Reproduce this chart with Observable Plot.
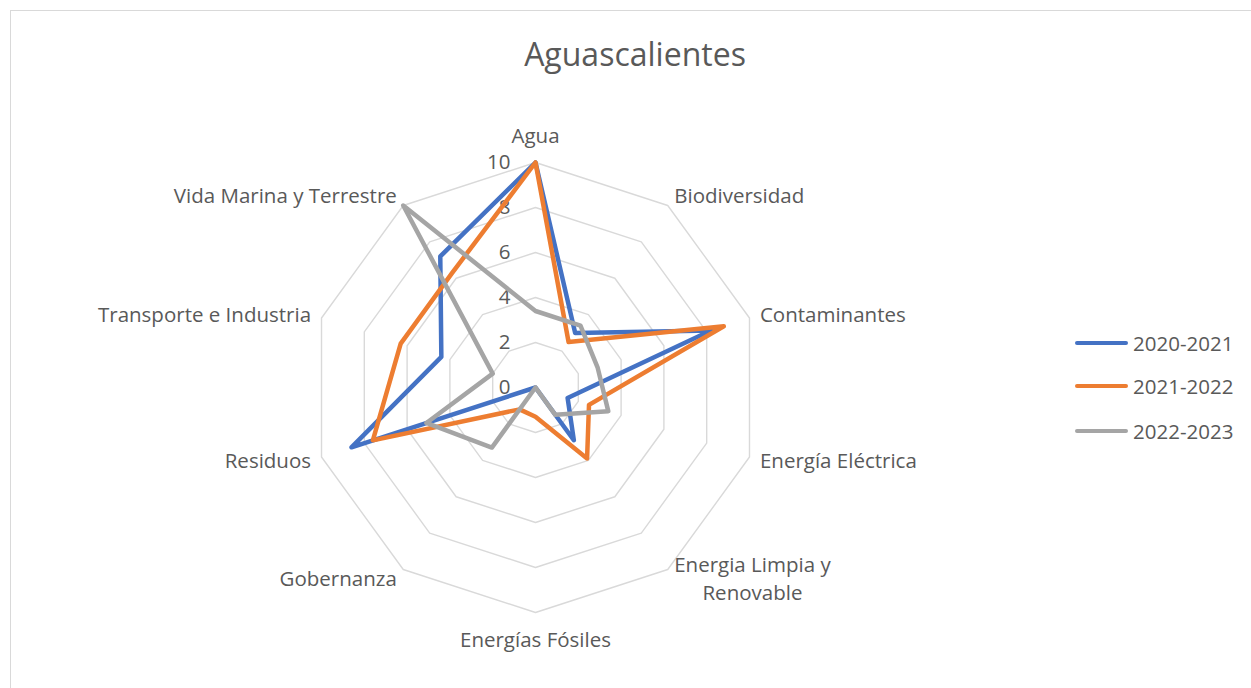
<!DOCTYPE html>
<html><head><meta charset="utf-8">
<script src="https://cdn.jsdelivr.net/npm/d3@7"></script>
<script src="https://cdn.jsdelivr.net/npm/@observablehq/plot@0.6"></script>
<style>
body{margin:0;background:#fff;font-family:"Open Sans",Lato,sans-serif;}
#wrap{position:relative;width:1251px;height:688px;overflow:hidden;background:#fff;}
#frame{position:absolute;left:10px;top:10px;width:1300px;height:700px;border:1px solid #d9d9d9;}
#title{position:absolute;left:10px;width:1250px;top:34px;text-align:center;font-size:32px;color:#595959;line-height:40px;}
#chart{position:absolute;left:0;top:90px;}
.leg{position:absolute;left:1075px;height:24px;display:flex;align-items:center;font-size:20.5px;color:#595959;white-space:nowrap;}
.sw{display:inline-block;width:53px;height:4.5px;border-radius:3px;margin-right:5px;}
</style></head><body>
<div id="wrap">
<div id="frame"></div>
<div id="title">Aguascalientes</div>
<div id="chart"></div>
<div id="legend"></div>
</div>
<script>
const categories = ["Agua","Biodiversidad","Contaminantes","Energía Eléctrica","Energia Limpia y\nRenovable","Energías Fósiles","Gobernanza","Residuos","Transporte e Industria","Vida Marina y Terrestre"];
const seriesNames = ["2020-2021","2021-2022","2022-2023"];
const values2020 = [10, 3.0, 8.2, 1.5, 2.9, 0, 0, 8.6, 4.4, 7.2];
const values2021 = [10, 2.5, 8.8, 2.5, 3.9, 1.3, 1.2, 7.6, 6.3, 6.3];
const values2022 = [3.4, 3.4, 2.9, 3.4, 1.5, 0, 3.3, 5.1, 2.0, 10];
const tickValues = [0, 2, 4, 6, 8, 10];
const tickLabels = ["0", "2", "4", "6", "8", "10"];
const colors = ["#4472C4", "#ED7D31", "#A5A5A5"];

const seriesValues = [values2020, values2021, values2022];
const N = categories.length;
const maxV = 10;
const W = 1251, H = 598;
const unit = 22.5;           // px per value unit
const cx = 535, cy = 297;    // center in svg px
const FS = 20.5;
const FONT = "'Open Sans', Lato, sans-serif";
const ang = i => i * 2 * Math.PI / N;

const rows = [];
seriesNames.forEach((s, k) => {
  seriesValues[k].forEach((v, i) => {
    rows.push({series: s, cat: categories[i], i, v, x: v * Math.sin(ang(i)), y: v * Math.cos(ang(i))});
  });
});

const ringRows = [];
tickValues.filter(t => t > 0).forEach(t => {
  for (let i = 0; i < N; i++) ringRows.push({ring: t, x: t * Math.sin(ang(i)), y: t * Math.cos(ang(i))});
});

const ctx = document.createElement("canvas").getContext("2d");
ctx.font = `${FS}px 'Open Sans'`;
const lab = categories.map((c, i) => {
  const s = Math.sin(ang(i)), co = Math.cos(ang(i));
  let x = maxV * s, y = maxV * co;
  let anchor;
  if (Math.abs(s) < 0.01) { anchor = "middle"; y += Math.sign(co) * 27 / unit; }
  else {
    anchor = s > 0 ? "start" : "end";
    x += s * 11 / unit;
    y += co * 11.5 / unit;
    if (c.includes("\n")) {
      const w = Math.max(...c.split("\n").map(t => ctx.measureText(t).width));
      x += Math.sign(s) * (w / 2) / unit; anchor = "middle";
    }
  }
  return {label: c, x, y, anchor};
});

const txt = "#595959";
const plot = Plot.plot({
  width: W, height: H, margin: 0,
  x: {domain: [-cx / unit, (W - cx) / unit], axis: null},
  y: {domain: [-(H - cy) / unit, cy / unit], axis: null},
  style: {fontFamily: FONT, background: "transparent"},
  marks: [
    Plot.line(ringRows, {x: "x", y: "y", z: "ring", curve: "linear-closed", stroke: "#d9d9d9", strokeWidth: 1.4}),
    Plot.text(tickValues, {x: 0, y: d => d, text: (d, i) => tickLabels[i], textAnchor: "end", dx: -25, dy: 0, fontSize: FS, fill: txt}),
    ...seriesNames.map((s, k) => Plot.line(rows.filter(r => r.series === s), {
      x: "x", y: "y", curve: "linear-closed", stroke: colors[k], strokeWidth: 4.5, strokeLinejoin: "round"
    })),
    ...["start", "end", "middle"].map(a => Plot.text(lab.filter(d => d.anchor === a), {
      x: "x", y: "y", text: "label", textAnchor: a, lineAnchor: "middle", lineHeight: 1.4, fontSize: FS, fill: txt, dy: -2
    }))
  ]
});
document.getElementById("chart").appendChild(plot);

const legend = document.getElementById("legend");
const legY = [343, 386, 431];
seriesNames.forEach((s, k) => {
  const d = document.createElement("div");
  d.className = "leg";
  d.style.top = (legY[k] - 12) + "px";
  d.innerHTML = `<span class="sw" style="background:${colors[k]}"></span>${s}`;
  legend.appendChild(d);
});
</script>
</body></html>
